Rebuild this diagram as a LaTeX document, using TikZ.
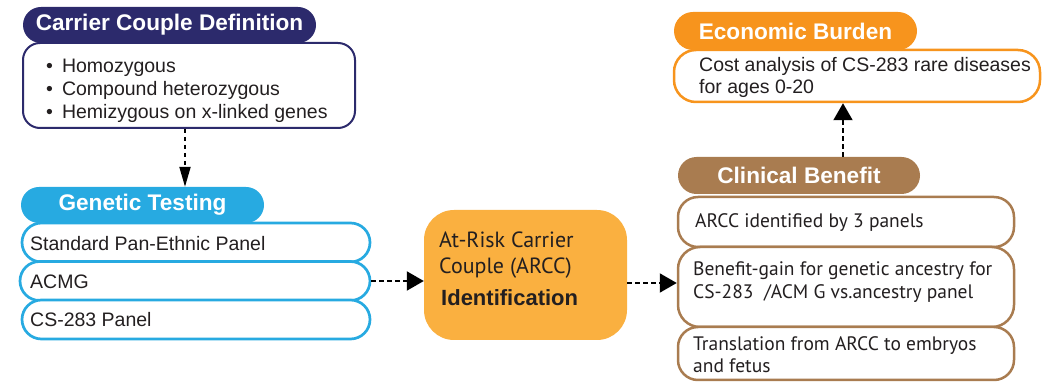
\documentclass[tikz,border=0pt]{standalone}
\usepackage{fontspec}
\setmainfont{Liberation Sans}
\newfontfamily\myr{PT Sans}
\usetikzlibrary{arrows.meta,shapes.misc,calc}
\definecolor{navyb}{RGB}{44,42,108}
\definecolor{cyanb}{RGB}{39,170,225}
\definecolor{arccor}{RGB}{250,176,64}
\definecolor{econor}{RGB}{247,148,29}
\definecolor{brownb}{RGB}{169,124,80}
\definecolor{txtc}{RGB}{35,31,32}
\newcommand{\mystrut}{\rule{0pt}{16pt}}
\newcommand{\bul}{•\hspace{9pt}}
\begin{document}
\begin{tikzpicture}[x=1pt,y=-1pt,
  pill/.style={rounded rectangle, fill=#1, text=white, font=\fontsize{22.6}{26}\selectfont\bfseries, inner sep=0pt},
  boxx/.style={draw=#1, fill=white, rounded corners=18pt, line width=2.5pt, inner sep=0pt},
  pbox/.style={draw=#1, fill=white, rounded rectangle, line width=2.7pt, inner sep=0pt},
  tl/.style={anchor=north west, inner sep=0pt, align=left, text=txtc, font=\fontsize{19.5}{23}\selectfont},
  ml/.style={anchor=north west, inner sep=0pt, align=left, text=txtc, font=\myr\fontsize{19.5}{23.5}\selectfont},
  darrow/.style={dash pattern=on 4.5pt off 3.5pt, line width=2pt, -{Triangle[length=17pt,width=19pt]}, black}
]
\useasboundingbox (0,0) rectangle (1045,387);

% Carrier couple definition
\node[pill=navyb, minimum width=293pt, minimum height=36pt] (cdhead) at (169.5,25) {Carrier Couple Definition};
\node[boxx=navyb, line width=2pt, rounded corners=17pt, minimum width=332pt, minimum height=85pt] (cdbox) at (189,85.5) {};
\node[tl] (cdtext) at (46,56) {\mystrut\bul Homozygous\\\bul Compound heterozygous\\\bul Hemizygous on x-linked genes};

% Genetic testing
\node[pill=cyanb, minimum width=243pt, minimum height=36pt] (gthead) at (142.5,205) {Genetic Testing};
\node[pbox=cyanb, minimum width=348pt, minimum height=39pt] (gt1) at (196,242.5) {};
\node[pbox=cyanb, minimum width=350pt, minimum height=39pt] (gt2) at (195,281) {};
\node[pbox=cyanb, minimum width=348pt, minimum height=39pt] (gt3) at (196,319.5) {};
\node[tl, anchor=base west] (gt1t) at (30,251) {Standard Pan-Ethnic Panel};
\node[tl, anchor=base west] (gt2t) at (30,289) {ACMG};
\node[tl, anchor=base west] (gt3t) at (30,327) {CS-283 Panel};

% ARCC
\node[fill=arccor, rounded corners=30pt, minimum width=203pt, minimum height=130pt, inner sep=0pt] (arcc) at (525.5,275) {};
\node[ml, font=\myr\fontsize{22}{26}\selectfont] (arcct) at (439,230) {\rule{0pt}{17pt}At-Risk Carrier\\Couple (ARCC)};
\node[anchor=base west, inner sep=0pt, text=txtc, font=\fontsize{22}{26}\selectfont\bfseries] (arccid) at (441,306) {Identification};

% Economic burden
\node[pill=econor, minimum width=243pt, minimum height=38pt] (ebhead) at (795.5,31) {Economic Burden};
\node[boxx=econor, rounded corners=22pt, minimum width=366pt, minimum height=52pt] (ebbox) at (857,76) {};
\node[tl, font=\fontsize{19.5}{22.5}\selectfont] (ebtext) at (699,55) {\mystrut Cost analysis of CS-283 rare diseases\\for ages 0-20};

% Clinical benefit
\node[pill=brownb, minimum width=242pt, minimum height=37pt] (cbhead) at (799,175.5) {Clinical Benefit};
\node[boxx=brownb, rounded corners=20pt, minimum width=336pt, minimum height=50pt] (cb1) at (846,222) {};
\node[boxx=brownb, rounded corners=22pt, minimum width=336pt, minimum height=80pt] (cb2) at (846,287) {};
\node[boxx=brownb, rounded corners=20pt, minimum width=336pt, minimum height=53pt] (cb3) at (846,353.5) {};
\node[ml, anchor=base west] (cb1t) at (695,228) {ARCC identified by 3 panels};
\node[ml, font=\myr\fontsize{19.5}{23}\selectfont] (cb2t) at (693,259) {\mystrut Benefit-gain for genetic ancestry for\\CS-283~ /ACM G vs.ancestry panel};
\node[ml, font=\myr\fontsize{19.5}{22}\selectfont] (cb3t) at (693,334) {\mystrut Translation from ARCC to embryos\\and fetus};

% connectors
\coordinate (a1) at (185,0);
\coordinate (a3) at (0,283);
\coordinate (a4) at (843,0);
\draw[darrow, -{Triangle[length=20pt,width=11pt]}] (cdbox.south -| a1) -- (gthead.north -| a1);
\draw[darrow] (gt2.east) -- (gt2.east -| arcc.west);
\draw[darrow] (arcc.east |- a3) -- (cb2.west |- a3);
\draw[darrow] (cbhead.north -| a4) -- (ebbox.south -| a4);
\end{tikzpicture}
\end{document}
